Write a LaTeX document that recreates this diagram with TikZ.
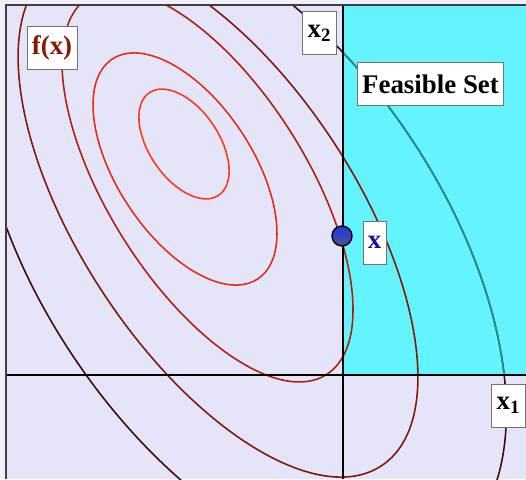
\documentclass[tikz,border=0pt]{standalone}
\usepackage{fontspec}
\setmainfont{Liberation Serif}
\definecolor{paper}{RGB}{240,240,252}
\definecolor{lavender}{RGB}{229,229,250}
\definecolor{feascyan}{RGB}{100,244,255}
\definecolor{lvlA}{RGB}{255,56,24}
\definecolor{lvlB}{RGB}{226,46,20}
\definecolor{lvlC}{RGB}{180,30,14}
\definecolor{lvlD}{RGB}{135,22,10}
\definecolor{lvlE}{RGB}{70,8,8}
\definecolor{lvlteal}{RGB}{42,145,145}
\definecolor{fxred}{RGB}{140,22,0}
\definecolor{optblue}{RGB}{20,20,160}
\tikzset{level/.style = {line width = 0.9pt}}
\tikzset{axis/.style = {line width = 1.3pt, black}}
\tikzset{lbl/.style = {draw = black!55, fill = white, minimum height = 0.86cm, inner xsep = 2.8pt, font = \bfseries\fontsize{15.3}{18}\selectfont}}
\tikzset{dot/.style = {circle, draw, thick, minimum size = 0.4cm, inner sep = 0pt, top color = {rgb,255:red,30;green,55;blue,225}, bottom color = {rgb,255:red,80;green,80;blue,150}}}

\begin{document}
\begin{tikzpicture}[x = 0.02cm, y = -0.02cm]
	\useasboundingbox (0,0) rectangle (526,479);
	\fill[paper] (0,0) rectangle (526,479);

	\coordinate (c1) at (184,144);
	\coordinate (c2) at (185,169);
	\coordinate (c3) at (207.5,186);
	\coordinate (c4) at (218,217);
	\coordinate (c5) at (241.7,246.8);

	\begin{scope}
		\clip (6,5) rectangle (526,479);
		\fill[lavender] (6,5) rectangle (526,479);
		\fill[feascyan] (343,5) rectangle (526,375);

		\draw[level, lvlA, rotate around = {-56:(c1)}] (c1) ellipse (61.9 and 34.9);
		\draw[level, lvlB, rotate around = {-56.5:(c2)}] (c2) ellipse (131.8 and 67.5);
		\draw[level, lvlC, rotate around = {-57.8:(c3)}] (c3) ellipse (223 and 99.2);
		\draw[level, lvlD, rotate around = {-56.7:(c4)}] (c4) ellipse (297.7 and 137.7);
		\draw[level, lvlE, rotate around = {-55.9:(c5)}] (c5) ellipse (367 and 201);
		\begin{scope}
			\clip (343,5) rectangle (526,375);
			\draw[level, lvlteal, rotate around = {-55.9:(c5)}] (c5) ellipse (367 and 201);
		\end{scope}
	\end{scope}

	\coordinate (top) at (343,5);
	\coordinate (bottom) at (343,479);
	\coordinate (left) at (6,375);
	\coordinate (right) at (526,375);
	\draw[axis] (top) -- (bottom);
	\draw[axis] (left) -- (right);
	\draw[line width = 1pt, black!75] (6,479) -- (6,5) -- (526,5);

	\node[dot] (opt) at (342,236) {};

	\node[lbl, text = fxred] (fx) at (52,47.5) {f(x)};
	\node[lbl] (xtwo) at (319.5,33) {x\textsubscript{2}};
	\node[lbl] (feas) at (430.5,84) {Feasible Set};
	\node[lbl, text = optblue] (xopt) at (374.5,242.5) {x};
	\node[lbl] (xone) at (508.5,405.5) {x\textsubscript{1}};
\end{tikzpicture}
\end{document}
